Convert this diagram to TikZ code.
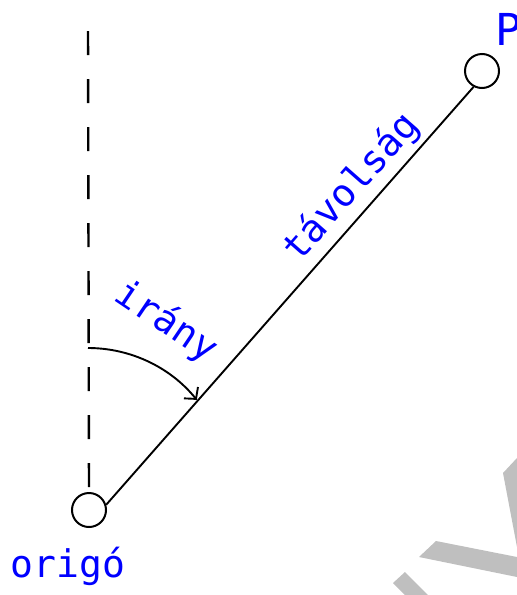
\documentclass[tikz,border=0pt]{standalone}
\usepackage{fontspec}
\setmonofont{DejaVu Sans Mono}
\usetikzlibrary{arrows.meta}
\definecolor{markgray}{gray}{0.75}

\begin{document}
\begin{tikzpicture}[
    x=1pt,
    y=1pt,
    >={Straight Barb[length=8pt, width=18pt]},
    point/.style={circle, draw, line width=2pt, minimum size=34pt, inner sep=0pt},
    label/.style={text=blue, font=\ttfamily\fontsize{38}{40}\selectfont, inner sep=3pt},
    line/.style={line width=1.9pt},
    axis/.style={line width=2.4pt, dash pattern=on 24pt off 24pt, dash phase=40pt}
]
\useasboundingbox (0,0) rectangle (517,-595);
\fill[markgray] (503,-473) -- (517,-458) -- (517,-547) -- cycle;
\fill[markgray] (436,-541) -- (517,-557) -- (517,-577) -- (419,-557) -- cycle;
\fill[markgray] (405,-572) -- (393,-583) -- (405,-595) -- (428,-595) -- cycle;

\node[point] (origo) at (89,-510) {};
\node[point] (P) at (482,-71) {};
\coordinate (top) at (88,-23);
\coordinate (arcstart) at (88,-348);

\node[label, anchor=base] (origolabel) at (68,-577) {origó};
\node[label, anchor=base west, font=\ttfamily\fontsize{44}{46}\selectfont] (Plabel) at (492,-45) {P};
\node[label, rotate=-34] (irany) at (166,-322) {irány};

\draw[axis] (top) -- (origo.north);
\draw[line] (origo.17) -- node[label, pos=0.72, sloped, above, inner sep=5pt] (tavolsag) {távolság} (P.242);
\draw[line, ->] (arcstart) arc[start angle=90, end angle=39, radius=140];
\end{tikzpicture}
\end{document}
